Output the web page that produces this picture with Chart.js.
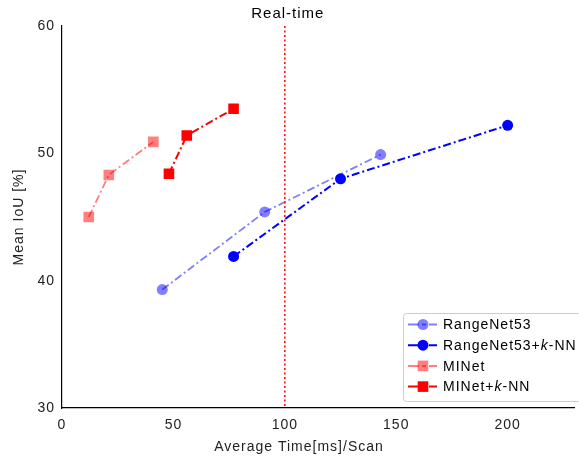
<!DOCTYPE html>
<html lang="en">
<head>
    <meta charset="UTF-8">
    <title>Real-time</title>
    <script src="https://cdn.jsdelivr.net/npm/chart.js"></script>
    <style>
        body { margin: 0; padding: 0; background: #fff; }
        #wrap { width: 579px; height: 459px; overflow: hidden; }
    </style>
</head>
<body>
<div id="wrap"><canvas id="chart" width="582" height="459"></canvas></div>
<script>
    // data
    const rangeNetTime = [45, 91, 143];
    const rangeNetIoU = [39.3, 45.4, 49.9];
    const rangeNetKnnTime = [77, 125, 200];
    const rangeNetKnnIoU = [41.9, 48.0, 52.2];
    const minetTime = [12, 21, 41];
    const minetIoU = [45.0, 48.3, 50.9];
    const minetKnnTime = [48, 56, 77];
    const minetKnnIoU = [48.4, 51.4, 53.5];
    const realTimeLimit = 100;
    const xTicks = [0, 50, 100, 150, 200];
    const yTicks = [30, 40, 50, 60];

    const FONT = 'Liberation Sans, Arial, sans-serif';
    const SPACING = '1px';
    const dashDot = [8, 3, 2, 3];

    function pts(xs, ys) {
        return xs.map((x, i) => ({ x: x, y: ys[i] }));
    }

    function series(label, xs, ys, color, style, radius, width) {
        return {
            label: label,
            data: pts(xs, ys),
            showLine: true,
            borderColor: color,
            backgroundColor: color,
            borderWidth: width,
            borderDash: dashDot,
            pointStyle: style,
            pointRadius: radius,
            pointHoverRadius: radius,
            pointBorderWidth: 0,
            pointBackgroundColor: color
        };
    }

    const datasets = [
        series('RangeNet53', rangeNetTime, rangeNetIoU, 'rgba(0,0,255,0.5)', 'circle', 5.5, 1.8),
        series('RangeNet53+k-NN', rangeNetKnnTime, rangeNetKnnIoU, '#0000ff', 'circle', 5.5, 2),
        series('MINet', minetTime, minetIoU, 'rgba(255,0,0,0.5)', 'rect', 7.5, 1.8),
        series('MINet+k-NN', minetKnnTime, minetKnnIoU, '#ff0000', 'rect', 7.5, 2)
    ];

    // wider letter spacing, like the reference text
    const spacingPlugin = {
        id: 'spacing',
        beforeInit(chart) { chart.ctx.letterSpacing = SPACING; },
        beforeLayout(chart) { chart.ctx.letterSpacing = SPACING; },
        beforeDraw(chart) { chart.ctx.letterSpacing = SPACING; }
    };

    // dotted real-time line, its label and the x axis title
    const realTimePlugin = {
        id: 'realTime',
        afterDatasetsDraw(chart) {
            const ctx = chart.ctx;
            const x = chart.scales.x.getPixelForValue(realTimeLimit);
            const area = chart.chartArea;
            ctx.save();
            ctx.strokeStyle = '#ff0000';
            ctx.lineWidth = 1.5;
            ctx.setLineDash([2, 2.5]);
            ctx.beginPath();
            ctx.moveTo(x, area.top);
            ctx.lineTo(x, area.bottom);
            ctx.stroke();
            ctx.setLineDash([]);
            ctx.fillStyle = '#000';
            ctx.font = '15px ' + FONT;
            ctx.letterSpacing = SPACING;
            ctx.textAlign = 'center';
            ctx.textBaseline = 'middle';
            ctx.fillText('Real-time', x + 3, 14);
            ctx.fillStyle = '#222';
            ctx.font = '14px ' + FONT;
            ctx.fillText('Average Time[ms]/Scan', 299, 447);
            ctx.restore();
        }
    };

    // legend drawn inside the plot, lower right
    const legendPlugin = {
        id: 'innerLegend',
        afterDraw(chart) {
            const ctx = chart.ctx;
            const bx = 403, by = 313, bw = 178, bh = 88;
            ctx.save();
            ctx.letterSpacing = SPACING;
            ctx.fillStyle = 'rgba(255,255,255,0.85)';
            ctx.strokeStyle = '#cccccc';
            ctx.lineWidth = 1;
            ctx.beginPath();
            ctx.roundRect(bx + 0.5, by + 0.5, bw, bh, 3);
            ctx.fill();
            ctx.stroke();
            const labels = [
                ['RangeNet53', ''],
                ['RangeNet53+', 'k', '-NN'],
                ['MINet', ''],
                ['MINet+', 'k', '-NN']
            ];
            chart.data.datasets.forEach((ds, i) => {
                const y = by + 11.5 + i * 20.7;
                ctx.strokeStyle = ds.borderColor;
                ctx.lineWidth = 2;
                ctx.setLineDash([11, 3, 4, 3]);
                ctx.beginPath();
                ctx.moveTo(408, y);
                ctx.lineTo(437, y);
                ctx.stroke();
                ctx.setLineDash([]);
                ctx.fillStyle = ds.borderColor;
                ctx.beginPath();
                if (ds.pointStyle === 'circle') {
                    ctx.arc(423, y, 5.5, 0, Math.PI * 2);
                } else {
                    ctx.rect(423 - 5.3, y - 5.3, 10.6, 10.6);
                }
                ctx.fill();
                ctx.fillStyle = '#000';
                ctx.textBaseline = 'middle';
                ctx.textAlign = 'left';
                let tx = 443;
                const parts = labels[i];
                parts.forEach((p, j) => {
                    if (!p) return;
                    ctx.font = (j === 1 ? 'italic ' : '') + '14px ' + FONT;
                    ctx.fillText(p, tx, y + 1);
                    tx += ctx.measureText(p).width;
                });
            });
            ctx.restore();
        }
    };

    new Chart(document.getElementById('chart'), {
        type: 'scatter',
        data: { datasets: datasets },
        options: {
            responsive: false,
            animation: false,
            layout: { padding: { top: 26, right: 0, left: 0, bottom: 0 } },
            plugins: {
                legend: { display: false },
                tooltip: { enabled: false }
            },
            scales: {
                x: {
                    type: 'linear',
                    min: 0,
                    max: 230,
                    afterBuildTicks(scale) {
                        scale.ticks = xTicks.map(v => ({ value: v }));
                    },
                    afterFit(scale) { scale.height = 51; },
                    grid: { display: false, drawTicks: true, tickLength: 4, tickColor: '#000' },
                    border: { display: true, color: '#000', width: 1.2 },
                    ticks: { color: '#222', font: { family: FONT, size: 14 }, padding: 5, maxRotation: 0 },
                    title: { display: false }
                },
                y: {
                    type: 'linear',
                    min: 30,
                    max: 60,
                    afterBuildTicks(scale) {
                        scale.ticks = yTicks.map(v => ({ value: v }));
                    },
                    afterFit(scale) { scale.width = 62; },
                    grid: { display: false, drawTicks: true, tickLength: 4, tickColor: '#000' },
                    border: { display: true, color: '#000', width: 1.2 },
                    ticks: { color: '#222', font: { family: FONT, size: 14 }, padding: 3 },
                    title: {
                        display: true,
                        text: 'Mean IoU [%]',
                        color: '#222',
                        font: { family: FONT, size: 14 },
                        padding: { top: 11, bottom: 4 }
                    }
                }
            }
        },
        plugins: [spacingPlugin, realTimePlugin, legendPlugin]
    });
</script>
</body>
</html>
